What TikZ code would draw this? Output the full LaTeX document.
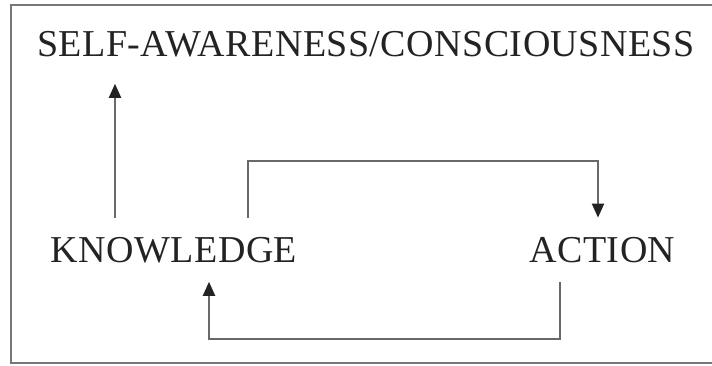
\documentclass[tikz,border=0pt]{standalone}
\usepackage{fontspec}
\setmainfont{Liberation Serif}[LetterSpace=1.2]
\usepackage{tikz}
\usetikzlibrary{
	arrows.meta,
	calc
}
\definecolor{LineGrey}{RGB}{105,105,105}
\definecolor{FrameGrey}{RGB}{120,120,120}
\definecolor{InkGrey}{RGB}{35,35,35}

\begin{document}
\begin{tikzpicture}[x=1pt,y=1pt]
	
	\useasboundingbox (0,0) rectangle (712,365);
	
	% open frame (right side runs off the page)
	\draw[
	FrameGrey,
	line width=2.4pt
	] (720,2) -- (11,2) -- (11,360) -- (720,360);
	
	\node[
	anchor=base,
	text=InkGrey,
	font=\fontsize{38}{40}\selectfont,
	inner xsep=0pt,
	inner ysep=26pt
	] (Self) at (366,308) {SELF-AWARENESS/CONSCIOUSNESS};
	
	\node[
	anchor=base,
	text=InkGrey,
	font=\fontsize{38}{40}\selectfont,
	inner xsep=0pt,
	inner ysep=19pt
	] (Know) at (174,103) {KNOWLEDGE};
	
	\node[
	anchor=base,
	text=InkGrey,
	font=\fontsize{38}{40}\selectfont,
	inner xsep=0pt,
	inner ysep=19pt
	] (Act) at (602.5,103) {ACTION};
	
	\draw[
	-{Triangle[width=12pt,length=14pt,color=InkGrey]},
	line width=2pt,
	LineGrey
	] ([xshift=-59pt]Know.north) -- ([xshift=-59pt]Know.north |- Self.south);
	
	\draw[
	-{Triangle[width=12pt,length=14pt,color=InkGrey]},
	line width=2pt,
	LineGrey
	] ([xshift=74pt]Know.north) |- ([xshift=-4.5pt,yshift=57pt]Act.north) -- ([xshift=-4.5pt]Act.north);
	
	\draw[
	-{Triangle[width=12pt,length=14pt,color=InkGrey]},
	line width=2pt,
	LineGrey
	] ([xshift=-42.5pt]Act.south) -- ++(0,-57) -| ([xshift=35pt]Know.south);
	
\end{tikzpicture}
\end{document}
